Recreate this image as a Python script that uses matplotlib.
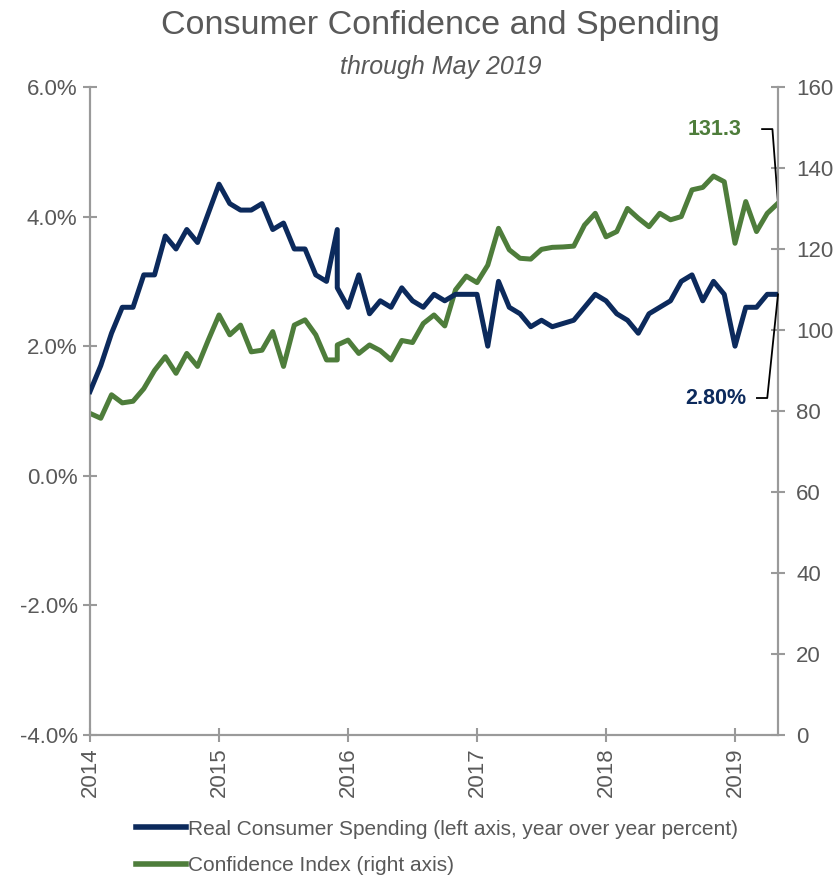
import numpy as np
import matplotlib
matplotlib.use("Agg")
import matplotlib.pyplot as plt
from matplotlib.ticker import FuncFormatter

plt.rcParams['font.family'] = ['Liberation Sans', 'DejaVu Sans']

# months since Jan 2014; Dec 2015 appears twice (data revision break)
months = list(range(24)) + [23] + list(range(24, 65))

spending = [1.3, 1.7, 2.2, 2.6, 2.6, 3.1, 3.1, 3.7, 3.5, 3.8, 3.6, 4.05,
            4.5, 4.2, 4.1, 4.1, 4.2, 3.8, 3.9, 3.5, 3.5, 3.1, 3.0, 3.8,
            2.9,
            2.6, 3.1, 2.5, 2.7, 2.6, 2.9, 2.7, 2.6, 2.8, 2.7, 2.8, 2.8,
            2.8, 2.0, 3.0, 2.6, 2.5, 2.3, 2.4, 2.3, 2.35, 2.4, 2.6, 2.8,
            2.7, 2.5, 2.4, 2.2, 2.5, 2.6, 2.7, 3.0, 3.1, 2.7, 3.0, 2.8,
            2.0, 2.6, 2.6, 2.8, 2.8]

confidence = [79.4, 78.2, 84.0, 82.0, 82.4, 85.5, 90.0, 93.4, 89.3, 94.2, 91.0, 97.5,
              103.7, 98.8, 101.2, 94.6, 95.0, 99.6, 91.0, 101.2, 102.5, 98.8, 92.6, 92.6,
              96.3,
              97.5, 94.2, 96.3, 94.9, 92.6, 97.4, 96.9, 101.6, 103.7, 101.0, 109.9, 113.3,
              111.7, 116.0, 125.1, 119.8, 117.7, 117.5, 119.9, 120.4, 120.5, 120.7, 125.9, 128.8,
              123.0, 124.3, 130.0, 127.6, 125.5, 128.8, 127.2, 128.0, 134.6, 135.2, 138.0, 136.6,
              121.4, 131.7, 124.3, 128.8, 131.3]

years = [2014, 2015, 2016, 2017, 2018, 2019]
left_ticks = [-4, -2, 0, 2, 4, 6]
right_ticks = [0, 20, 40, 60, 80, 100, 120, 140, 160]

navy = '#0c2a5c'
green = '#4e7d3b'
grey = '#595959'
spine = '#9a9a9a'

x = 2014 + np.array(months) / 12.0

fig = plt.figure(figsize=(8.39, 8.82), dpi=100)
ax = fig.add_axes([0.1073, 0.1667, 0.82, 0.7347])
ax2 = ax.twinx()

l1, = ax.plot(x, spending, color=navy, lw=3.6, solid_joinstyle='round', zorder=3,
              label='Real Consumer Spending (left axis, year over year percent)')
l2, = ax2.plot(x, confidence, color=green, lw=3.6, solid_joinstyle='round', zorder=2,
               label='Confidence Index (right axis)')

ax.set_xlim(2014, 2014 + 64 / 12.0)
ax.set_ylim(-4, 6)
ax2.set_ylim(0, 160)
ax.set_xticks(years)
ax.set_xticklabels([str(y) for y in years], rotation=90)
ax.set_yticks(left_ticks)
ax.yaxis.set_major_formatter(FuncFormatter(lambda v, p: f'{v:.1f}%'))
ax2.set_yticks(right_ticks)

for a in (ax, ax2):
    a.spines['top'].set_visible(False)
    for s in ('left', 'right', 'bottom'):
        a.spines[s].set_color(spine)
        a.spines[s].set_linewidth(1.5)
    a.tick_params(colors=spine, labelcolor=grey, labelsize=16, length=10,
                  width=1.5, direction='inout')
ax.tick_params(axis='y', pad=4)
ax2.tick_params(axis='y', pad=8)
ax.tick_params(axis='x', pad=4)
ax.set_zorder(ax2.get_zorder() + 1)
ax.patch.set_visible(False)

# end-of-series callouts: label, short stub, leader to last point
xe = x[-1]
stub = [2019.21, 2019.29]
ax2.plot([stub[0], stub[1], xe], [149.6, 149.6, confidence[-1]], color='black',
         lw=1.3, clip_on=False, zorder=5)
ax2.text(2019.05, 149.6, f'{confidence[-1]:.1f}', ha='right', va='center',
         fontsize=15.5, fontweight='bold', color=green)
ax.plot([stub[0] - 0.04, stub[1] - 0.04, xe], [1.2, 1.2, spending[-1]], color='black',
        lw=1.3, clip_on=False, zorder=5)
ax.text(2019.09, 1.2, f'{spending[-1]:.2f}%', ha='right', va='center',
        fontsize=15.5, fontweight='bold', color=navy)

fig.text(0.525, 0.971, 'Consumer Confidence and Spending', ha='center', va='center',
         fontsize=24.5, color=grey)
fig.text(0.525, 0.924, 'through May 2019', ha='center', va='center',
         fontsize=18, color=grey, style='italic')

leg = fig.legend(handles=[l1, l2], loc='center left', bbox_to_anchor=(0.14, 0.039),
                 frameon=False, fontsize=15, handlelength=2.4, handletextpad=0.1,
                 labelspacing=0.85, labelcolor=grey)
for h in leg.get_lines():
    h.set_linewidth(4)

fig.savefig('out.png', dpi=100)
